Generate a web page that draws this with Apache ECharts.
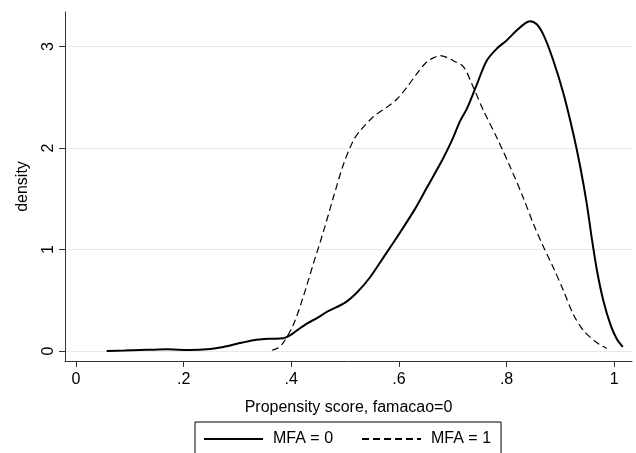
<!DOCTYPE html>
<html>
<head>
<meta charset="utf-8">
<script src="https://cdn.jsdelivr.net/npm/echarts@6/dist/echarts.min.js"></script>
<style>html,body{margin:0;padding:0;background:#fff;}#c{width:636px;height:453px;}</style>
</head>
<body>
<div id="c"></div>
<script>
var mfa0X = [0.057,0.09,0.119,0.145,0.169,0.19,0.212,0.243,0.274,0.299,0.33,0.361,0.385,0.398,0.41,0.429,0.45,0.466,0.5,0.522,0.546,0.571,0.596,0.63,0.652,0.68,0.698,0.714,0.726,0.745,0.763,0.782,0.8,0.819,0.835,0.843,0.856,0.869,0.887,0.906,0.924,0.937,0.949,0.958,0.968,0.98,0.993,1.005,1.016];
var mfa0Y = [0,0.005,0.01,0.013,0.016,0.012,0.01,0.016,0.04,0.07,0.105,0.12,0.125,0.155,0.2,0.27,0.33,0.385,0.477,0.576,0.724,0.92,1.118,1.4,1.61,1.876,2.07,2.27,2.385,2.63,2.86,2.98,3.06,3.16,3.23,3.25,3.22,3.11,2.86,2.53,2.14,1.81,1.45,1.12,0.79,0.49,0.26,0.115,0.04];
var mfa1X = [0.364,0.375,0.385,0.404,0.422,0.441,0.46,0.478,0.497,0.515,0.528,0.553,0.577,0.596,0.615,0.633,0.652,0.665,0.677,0.69,0.701,0.72,0.738,0.757,0.782,0.807,0.831,0.85,0.869,0.887,0.906,0.924,0.943,0.968,0.986];
var mfa1Y = [0.007,0.03,0.08,0.26,0.53,0.86,1.18,1.51,1.84,2.07,2.17,2.31,2.40,2.48,2.6,2.73,2.85,2.89,2.91,2.89,2.86,2.8,2.6,2.37,2.1,1.81,1.51,1.25,1.02,0.82,0.59,0.36,0.2,0.08,0.025];
var xTicks = [0,0.2,0.4,0.6,0.8,1];
var yTicks = [0,1,2,3];
var seriesNames = ['MFA = 0','MFA = 1'];
var xTitle = 'Propensity score, famacao=0';
var yTitle = 'density';

function pairs(xs, ys){ return xs.map(function(v,i){ return [v, ys[i]]; }); }
function fmtX(v){ if (v === 0) return '0'; if (v === 1) return '1'; return String(v).replace(/^0/, ''); }

var font = 'Liberation Sans, Arial, sans-serif';
var chart = echarts.init(document.getElementById('c'), null, {renderer:'canvas'});
chart.setOption({
  animation: false,
  backgroundColor: '#fff',
  grid: {left: 65, right: 4, top: 12, bottom: 92, containLabel: false},
  xAxis: {
    type: 'value', min: -0.0204, max: 1.033,
    name: xTitle, nameLocation: 'middle', nameGap: 39,
    nameTextStyle: {fontFamily: font, fontSize: 16, color: '#000'},
    axisLine: {show: true, onZero: false, lineStyle: {color: '#333', width: 1}},
    axisTick: {show: true, length: 6, customValues: xTicks, lineStyle: {color: '#333'}},
    axisLabel: {customValues: xTicks, formatter: fmtX, fontFamily: font, fontSize: 16, color: '#000', margin: 11},
    splitLine: {show: false}
  },
  yAxis: {
    type: 'value', min: -0.099, max: 3.34,
    name: yTitle, nameLocation: 'middle', nameGap: 34,
    nameTextStyle: {fontFamily: font, fontSize: 16, color: '#000'},
    axisLine: {show: true, onZero: false, lineStyle: {color: '#333', width: 1}},
    axisTick: {show: true, length: 6, customValues: yTicks, lineStyle: {color: '#333'}},
    axisLabel: {customValues: yTicks, rotate: 90, fontFamily: font, fontSize: 16, color: '#000', margin: 8},
    splitLine: {show: true, lineStyle: {color: '#e8e8e8', width: 1}}
  },
  legend: {
    left: 195, top: 422, orient: 'horizontal',
    padding: [9, 10, 14, 8], itemGap: 28,
    itemWidth: 59, itemHeight: 12,
    itemStyle: {opacity: 0},
    borderColor: '#000', borderWidth: 1, borderRadius: 0,
    textStyle: {fontFamily: font, fontSize: 16, color: '#000', padding: [0,0,0,5]},
    data: seriesNames
  },
  series: [
    {name: seriesNames[0], type: 'line', data: pairs(mfa0X, mfa0Y), symbol: 'none', showSymbol: false, smooth: 0.3,
     lineStyle: {color: '#000', width: 2, type: 'solid'}, itemStyle: {color: '#000'}},
    {name: seriesNames[1], type: 'line', data: pairs(mfa1X, mfa1Y), symbol: 'none', showSymbol: false, smooth: 0.3,
     lineStyle: {color: '#000', width: 1.2, type: [7, 4]}, itemStyle: {color: '#000'}}
  ]
});
</script>
</body>
</html>
